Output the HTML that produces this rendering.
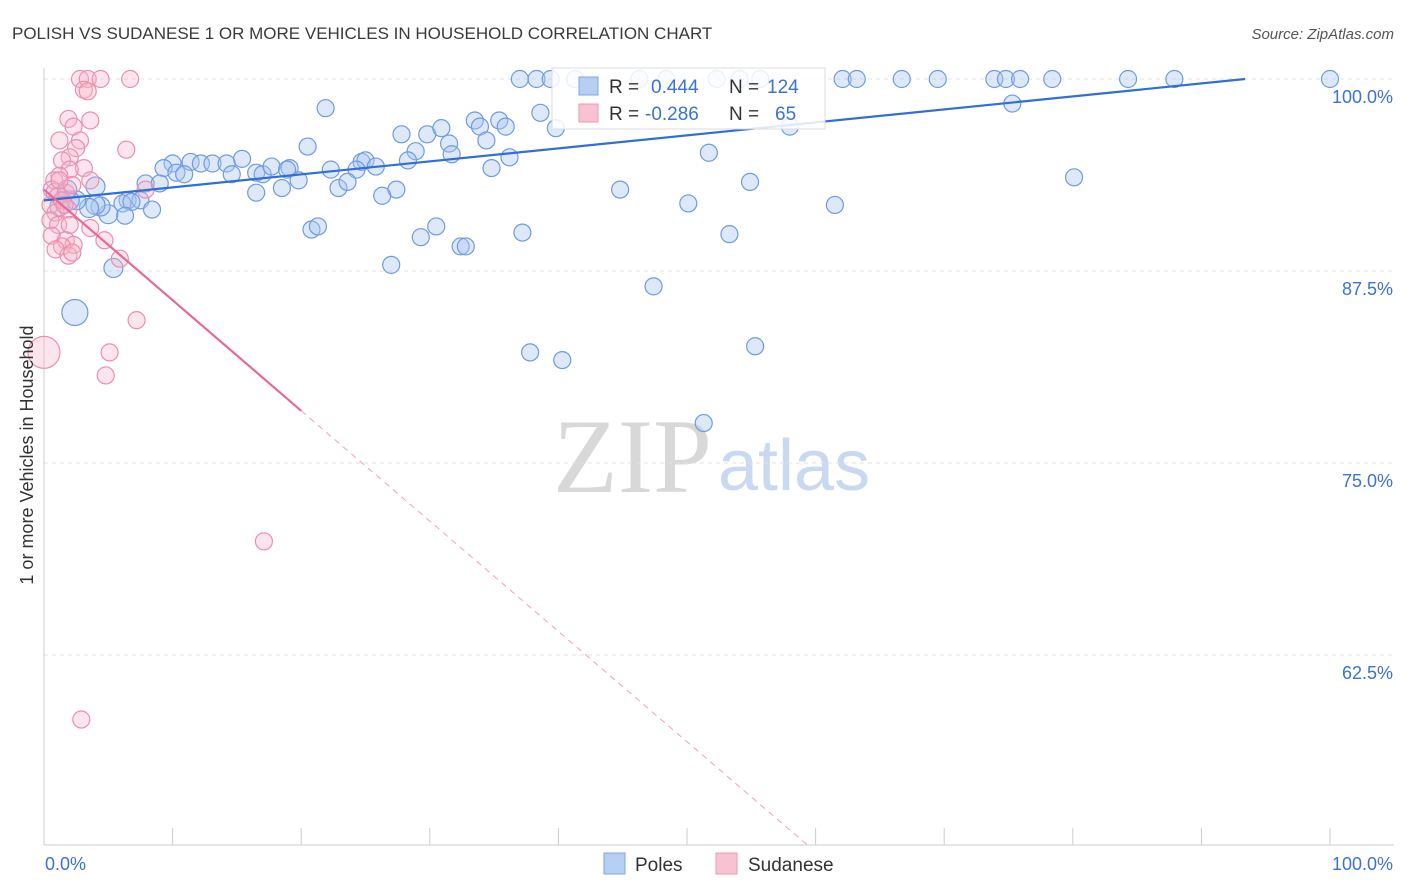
<!DOCTYPE html>
<html><head><meta charset="utf-8"><style>
body{margin:0;background:#fff;font-family:"Liberation Sans",sans-serif;}
svg{display:block}
</style></head><body>
<svg id="chart" width="1406" height="892">
<text x="12" y="39" font-size="17" fill="#3a3a3a">POLISH VS SUDANESE 1 OR MORE VEHICLES IN HOUSEHOLD CORRELATION CHART</text>
<text x="1394" y="39" font-size="15" font-style="italic" fill="#555" text-anchor="end">Source: ZipAtlas.com</text>
<g>
<text x="553" y="492" font-family="Liberation Serif,serif" font-size="106" fill="#d8d8d8">ZIP</text>
<text x="718" y="490" font-size="72" fill="#c9daf0">atlas</text>
</g>
<g id="grid"></g>
<g id="axes"></g>
<g id="marks"></g>
<g>
<rect x="552" y="68" width="273" height="61" fill="#fff" fill-opacity="0.85" stroke="#ddd"/>
<rect x="579" y="77" width="19" height="18" fill="#b7cff3" stroke="#7fa6e3"/>
<rect x="579" y="104" width="19" height="18" fill="#f8c2d3" stroke="#ee98b3"/>
<text x="609" y="93" font-size="19" fill="#333">R = </text><text x="651" y="93" font-size="19" fill="#3a73d4">0.444</text>
<text x="729" y="93" font-size="19" fill="#333">N = </text><text x="767" y="93" font-size="19" fill="#3a73d4">124</text>
<text x="609" y="120" font-size="19" fill="#333">R = </text><text x="645" y="120" font-size="19" fill="#3a73d4">-0.286</text>
<text x="729" y="120" font-size="19" fill="#333">N = </text><text x="775" y="120" font-size="19" fill="#3a73d4">65</text>
</g>
<g>
<rect x="604" y="853" width="21" height="21" fill="#b7cff3" stroke="#7fa6e3"/>
<text x="635" y="871" font-size="19" fill="#333">Poles</text>
<rect x="716" y="853" width="21" height="21" fill="#f8c2d3" stroke="#ee98b3"/>
<text x="748" y="871" font-size="19" fill="#333">Sudanese</text>
</g>
<text transform="translate(33,455) rotate(-90)" font-size="18" fill="#333" text-anchor="middle">1 or more Vehicles in Household</text>
</svg>
<script>
const yTicks=[100,87.5,75,62.5];
const yTickLabels=["100.0%","87.5%","75.0%","62.5%"];
const polesX=[37.0,38.3,39.4,41.3,46.3,48.4,52.3,54.1,55.7,62.1,63.2,66.7,69.5,73.9,74.8,75.9,78.4,84.3,87.9,100,
21.9,38.6,39.8,75.3,58.0,33.5,35.4,33.9,35.9,27.8,29.8,30.9,31.5,34.4,20.5,28.9,28.3,31.7,36.2,51.7,24.7,25.0,25.8,15.4,11.4,10.0,12.2,13.1,14.2,9.3,10.3,10.9,14.6,16.5,17.0,17.7,19.1,18.9,22.3,24.3,19.8,18.5,16.5,22.9,23.6,27.4,26.3,34.8,44.8,54.9,80.1,50.1,61.5,7.9,9.0,6.5,7.5,6.1,6.8,8.4,6.3,5.0,4.4,4.0,3.5,2.5,2.0,0.9,1.2,1.8,4.0,20.8,21.3,30.5,29.3,32.4,32.8,37.2,53.3,27.0,5.4,47.4,2.4,37.8,40.3,55.3,51.3];
const polesY=[100,100,100,100,100,100,100,100,100,100,100,100,100,100,100,100,100,100,100,100,
98.1,97.8,96.8,98.4,96.9,97.3,97.3,96.9,96.9,96.4,96.4,96.8,95.8,96.0,95.6,95.3,94.7,95.1,94.9,95.2,94.6,94.7,94.3,94.8,94.6,94.5,94.5,94.5,94.5,94.2,93.9,93.8,93.8,93.9,93.8,94.3,94.2,94.1,94.1,94.1,93.4,92.9,92.6,92.9,93.3,92.8,92.4,94.2,92.8,93.3,93.6,91.9,91.8,93.2,93.2,92.1,92.1,91.9,92.0,91.5,91.1,91.2,91.7,91.8,91.6,92.1,92.1,92.6,91.7,92.8,93.0,90.2,90.4,90.4,89.7,89.1,89.1,90.0,89.9,87.9,87.7,86.5,84.8,82.2,81.7,82.6,77.6];
const sudX=[2.8,3.4,4.4,6.7,3.1,3.4,1.9,3.6,2.3,2.8,1.2,6.4,2.5,2.0,1.4,3.1,2.0,1.2,0.8,0.6,1.1,1.7,2.2,3.6,7.9,0.5,0.9,1.4,1.9,0.5,1.1,2.0,0.6,1.7,4.7,2.3,1.4,0.9,1.9,2.2,5.9,3.6,7.2,5.1,4.8,0,17.1,2.9,1.2,1.6];
const sudY=[100,100,100,100,99.3,99.2,97.4,97.3,96.9,96.0,96.0,95.4,95.5,94.9,94.7,94.2,94.1,93.7,93.4,92.8,92.4,92.6,93.1,93.4,92.8,91.8,91.3,92.1,91.5,90.8,90.5,90.5,89.8,89.5,89.5,89.2,89.1,88.9,88.5,88.7,88.3,90.3,84.3,82.2,80.7,82.2,69.9,58.3,93.4,91.8];
const polesTrend=[[0,92.1],[93.4,100]];
const sudTrendSolid=[[0,92.8],[20,78.4]];
const sudTrendDash=[[20,78.4],[59.4,50.1]];
const NS="http://www.w3.org/2000/svg";
const X0=44,X1=1330,Y100=79,PXPER=15.36;
function sx(v){return X0+(X1-X0)*v/100;}
function sy(v){return Y100+(100-v)*PXPER;}
function mk(tag,attrs,parent){const e=document.createElementNS(NS,tag);for(const k in attrs)e.setAttribute(k,attrs[k]);parent.appendChild(e);return e;}
const grid=document.getElementById('grid'),axes=document.getElementById('axes'),marks=document.getElementById('marks');
yTicks.forEach((t,i)=>{
 const l=mk('line',{x1:44,x2:1394,y1:sy(t),y2:sy(t),stroke:'#e2e2e2','stroke-dasharray':'4,4'},grid);
 
 
 const tx=mk('text',{x:1393,y:sy(t)+24,'font-size':18,fill:'#3a73d4','text-anchor':'end'},axes);
 tx.textContent=yTickLabels[i];
 
 
});
let a=mk('line',{x1:44,x2:44,y1:68,y2:845,stroke:'#ccc'},axes);


a=mk('line',{x1:44,x2:1394,y1:845,y2:845,stroke:'#ccc'},axes);


for(let i=0;i<=10;i++){
 const t=mk('line',{x1:sx(i*10),x2:sx(i*10),y1:828,y2:845,stroke:'#ccc'},axes);
 
 
}
let xl=mk('text',{x:45,y:870,'font-size':18,fill:'#3a73d4'},axes);xl.textContent='0.0%';


xl=mk('text',{x:1393,y:870,'font-size':18,fill:'#3a73d4','text-anchor':'end'},axes);xl.textContent='100.0%';


polesX.forEach((v,i)=>{
 const r=(v===2.4&&polesY[i]===84.8)?13:(v<6?9.5:8.5);
 const c=mk('circle',{cx:sx(v),cy:sy(polesY[i]),r:r,fill:'#a9c5ef','fill-opacity':0.4,stroke:'#6f9be0','stroke-width':1.2},marks);
 
 
});
sudX.forEach((v,i)=>{
 const r=(v===0)?16:8.5;
 const c=mk('circle',{cx:sx(v),cy:sy(sudY[i]),r:r,fill:'#f5b5c9','fill-opacity':0.35,stroke:'#ec8fae','stroke-width':1.2},marks);
 
 
});
let tl=mk('line',{x1:sx(polesTrend[0][0]),y1:sy(polesTrend[0][1]),x2:sx(polesTrend[1][0]),y2:sy(polesTrend[1][1]),stroke:'#2f6fd6','stroke-width':2.2},marks);


tl=mk('line',{x1:sx(sudTrendSolid[0][0]),y1:sy(sudTrendSolid[0][1]),x2:sx(sudTrendSolid[1][0]),y2:sy(sudTrendSolid[1][1]),stroke:'#e8689a','stroke-width':2.2},marks);


tl=mk('line',{x1:sx(sudTrendDash[0][0]),y1:sy(sudTrendDash[0][1]),x2:sx(sudTrendDash[1][0]),y2:sy(sudTrendDash[1][1]),stroke:'#eea0bd','stroke-width':1,'stroke-dasharray':'6,5'},marks);


</script>
</body></html>
